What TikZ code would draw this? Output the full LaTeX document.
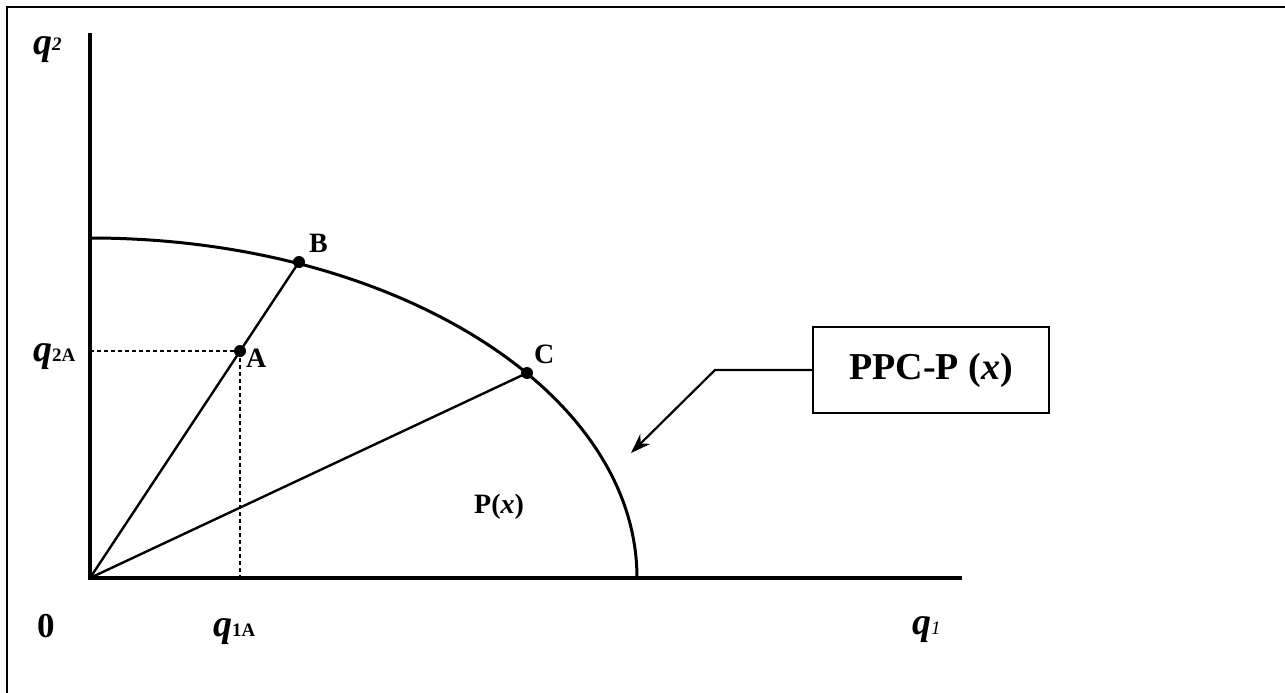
\documentclass[tikz,border=0pt]{standalone}
\usepackage{fontspec}
\setmainfont{Liberation Serif}
\usetikzlibrary{arrows.meta}
\begin{document}
\begin{tikzpicture}[x=1pt,y=-1pt,
  axis/.style={line width=4pt},
  curve/.style={line width=3pt},
  ray/.style={line width=2.4pt},
  guide/.style={line width=1.8pt, dash pattern=on 4pt off 3pt},
  dot/.style={circle, fill=black, inner sep=0pt, minimum size=12pt},
  lbl/.style={font=\fontsize{28}{33}\selectfont\bfseries, inner sep=0pt, anchor=base west},
  axlbl/.style={font=\fontsize{38}{44}\selectfont\bfseries\itshape, inner sep=0pt, anchor=base west}
]
\useasboundingbox (0,0) rectangle (1285,693);
% frame
\draw[line width=2.8pt] (7,693) -- (7,7) -- (1285,7);

% key points
\coordinate (O) at (90,578);
\coordinate (ytop) at (90,33);
\coordinate (xend) at (962,578);
\coordinate (ymax) at (90,238);
\coordinate (xmax) at (637,578);
\coordinate (q2Aax) at (90,351);
\coordinate (q1Aax) at (240,578);

% axes and frontier
\draw[axis] (ytop) -- (O) -- (xend);
\draw[curve] (ymax) .. controls (392,238) and (637,390) .. (xmax);

% points
\node[dot] (B) at (299,262) {};
\node[dot] (C) at (527,373) {};
\node[dot] (A) at (240,351) {};

\draw[ray] (O) -- (B.center);
\draw[ray] (O) -- (C.center);
\draw[guide] (q2Aax) -- (A.center);
\draw[guide] (A.center) -- (q1Aax);

% labelled box and arrow
\node[draw, line width=2.4pt, minimum width=236pt, minimum height=86pt,
      font=\fontsize{38}{44}\selectfont\bfseries, inner sep=0pt] (ppc) at (931,370) {PPC-P (\textit{x})};
\coordinate (bend) at (715,370);
\coordinate (tip) at (631,453);
\draw[line width=2.2pt, -{Stealth[length=20pt,width=14pt]}] (ppc.west) -- (bend) -- (tip);

% labels
\node[axlbl] (lq2) at (33,55) {q\raisebox{4pt}{\fontsize{19}{22}\selectfont 2}};
\node[axlbl] (lq2A) at (33,361) {q{\fontsize{19}{22}\selectfont\upshape 2A}};
\node[axlbl] (lq1A) at (213,636) {q{\fontsize{19}{22}\selectfont\upshape 1A}};
\node[axlbl] (lq1) at (912,634) {q{\fontsize{19}{22}\selectfont\mdseries 1}};
\node[font=\fontsize{35}{40}\selectfont\bfseries, inner sep=0pt, anchor=base west] (l0) at (37,637) {0};
\node[lbl] (lB) at (309,252) {B};
\node[lbl] (lC) at (534,363) {C};
\node[lbl] (lA) at (246,367) {A};
\node[lbl] (lP) at (474,513) {P(\textit{x})};
\end{tikzpicture}
\end{document}
